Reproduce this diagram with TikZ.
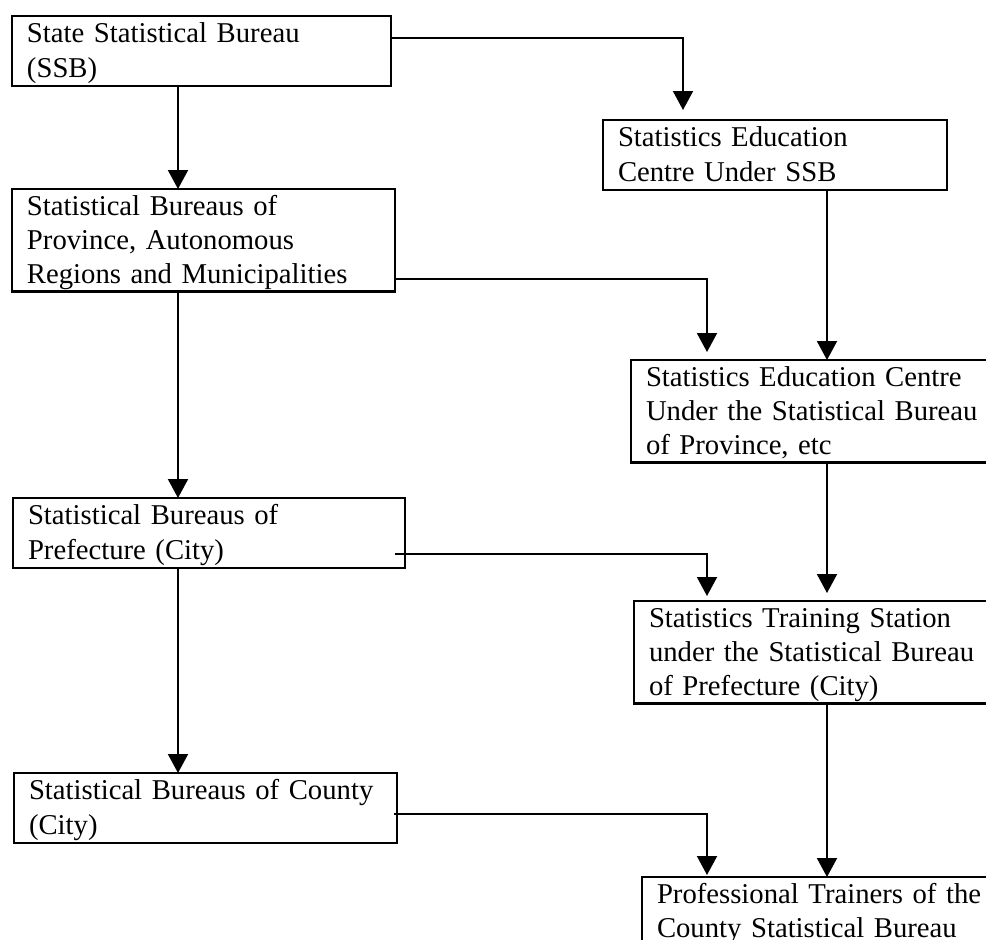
\documentclass[tikz,border=0pt]{standalone}
\usepackage{fontspec}
\setmainfont{Liberation Serif}
\usetikzlibrary{arrows.meta}
\newcommand{\boxstrut}{\hyphenpenalty=10000\rule[-8.5pt]{0pt}{34.5pt}}
\tikzset{
    mybox/.style = {rectangle, draw=black, line width=2.2pt, outer sep=0pt, anchor=north west, align=left, inner xsep=15pt, inner ysep=0pt, text width=#1, font=\fontsize{28.7}{34}\selectfont, execute at begin node=\boxstrut, execute at end node=\boxstrut},
    edgea/.style = {-{Triangle[length=19pt,width=20pt]}, line width=2pt, black}, % arrow
}

\begin{document}
\begin{tikzpicture}[x=1pt, y=-1pt]
  \useasboundingbox (0,0) rectangle (986,940);
  \clip (0,0) rectangle (986,940);

  % left column
  \node[mybox=349pt] (ssb) at (12,16) {State Statistical Bureau\\(SSB)};
  \node[mybox=353pt] (prov) at (12,189) {Statistical Bureaus of\\Province, Autonomous\\Regions and Municipalities};
  \node[mybox=362pt] (pref) at (13,498) {Statistical Bureaus of\\Prefecture (City)};
  \node[mybox=353pt] (county) at (14,773) {Statistical Bureaus of County\\(City)};

  % right column
  \node[mybox=314pt] (secssb) at (603,120) {Statistics Education\\Centre Under SSB};
  \node[mybox=339pt] (secprov) at (631,360) {Statistics Education Centre\\Under the Statistical Bureau\\of Province, etc};
  \node[mybox=336pt] (train) at (634,601) {Statistics Training Station\\under the Statistical Bureau\\of Prefecture (City)};
  \node[mybox=360pt] (trainers) at (642,877) {Professional Trainers of the\\County Statistical Bureau\\};

  \coordinate (colL) at (178,0);
  \coordinate (colR) at (827,0);
  \coordinate (tipa) at (683,110);
  \coordinate (tipb) at (707,352);
  \coordinate (tipc) at (707,596);
  \coordinate (tipd) at (707,875);
  \coordinate (tipe) at (827,593);

  \draw[edgea] (ssb.south -| colL) -- (prov.north -| colL);
  \draw[edgea] (prov.south -| colL) -- (pref.north -| colL);
  \draw[edgea] (pref.south -| colL) -- (county.north -| colL);

  \draw[edgea] ([yshift=13.5pt]ssb.east) -| (tipa);
  \draw[edgea] ([yshift=13pt]prov.south east) -| (tipb);
  \draw[edgea] ([xshift=-10pt,yshift=14pt]pref.south east) -| (tipc);
  \draw[edgea] ([xshift=-3pt,yshift=29pt]county.south east) -| (tipd);

  \draw[edgea] (secssb.south -| colR) -- (secprov.north -| colR);
  \draw[edgea] (secprov.south -| colR) -- (tipe);
  \draw[edgea] (train.south -| colR) -- (trainers.north -| colR);
\end{tikzpicture}
\end{document}
